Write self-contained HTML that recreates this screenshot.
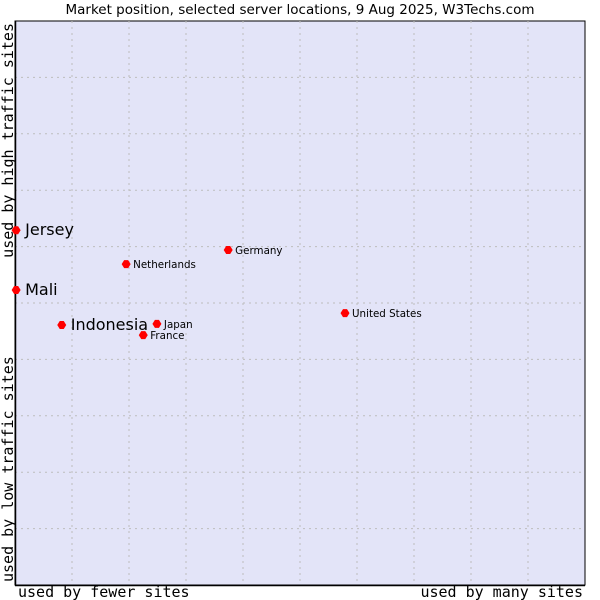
<!DOCTYPE html>
<html><head><meta charset="utf-8"><style>
body{margin:0;background:#fff}
svg{display:block}
</style></head><body>
<svg id="chart" width="600" height="600" xmlns="http://www.w3.org/2000/svg">
<text x="300" y="14" text-anchor="middle" font-family="DejaVu Sans, sans-serif" font-size="13.5" fill="#000">Market position, selected server locations, 9 Aug 2025, W3Techs.com</text>
<rect x="15" y="21" width="570" height="564" fill="#e3e4f8" stroke="#000" stroke-width="1"/>
<g id="grid"></g>
<line x1="15.5" y1="21" x2="15.5" y2="585" stroke="#000" stroke-width="1.5"/>
<line x1="15" y1="585.5" x2="585" y2="585.5" stroke="#000" stroke-width="1.5"/>
<g id="points"></g>
<text x="18" y="597" font-family="DejaVu Sans Mono, monospace" font-size="15">used by fewer sites</text>
<text x="583" y="597" text-anchor="end" font-family="DejaVu Sans Mono, monospace" font-size="15">used by many sites</text>
<text transform="translate(13,23) rotate(-90)" text-anchor="end" font-family="DejaVu Sans Mono, monospace" font-size="15">used by high traffic sites</text>
<text transform="translate(13,582) rotate(-90)" font-family="DejaVu Sans Mono, monospace" font-size="15">used by low traffic sites</text>
</svg>
<script>
const names=["Jersey","Mali","Indonesia","Netherlands","Germany","United States","Japan","France"];
const xValues=[0.2,0.2,8.2,19.5,37.4,57.9,24.9,22.5];
const yValues=[62.9,52.3,46.1,56.9,59.4,48.2,46.3,44.3];
const bigLabels=[true,true,true,false,false,false,false,false];
const gridTicks=[10,20,30,40,50,60,70,80,90];
const NS="http://www.w3.org/2000/svg";
const X0=15,X1=585,Y0=585,Y1=21;
function xs(v){return X0+(X1-X0)*v/100;}
function ys(v){return Y0-(Y0-Y1)*v/100;}
const grid=document.getElementById('grid');
gridTicks.forEach(t=>{
  const v=document.createElementNS(NS,'line');
  
  
  v.setAttribute('x1',xs(t));v.setAttribute('x2',xs(t));v.setAttribute('y1',Y1);v.setAttribute('y2',Y0);
  v.setAttribute('stroke','#bdbdbd');v.setAttribute('stroke-dasharray','2,4');
  grid.appendChild(v);
  const h=document.createElementNS(NS,'line');
  
  
  h.setAttribute('x1',X0);h.setAttribute('x2',X1);h.setAttribute('y1',ys(t));h.setAttribute('y2',ys(t));
  h.setAttribute('stroke','#bdbdbd');h.setAttribute('stroke-dasharray','2,4');
  grid.appendChild(h);
});
const pts=document.getElementById('points');
names.forEach((n,i)=>{
  const cx=xs(xValues[i]),cy=ys(yValues[i]);
  const d=document.createElementNS(NS,'path');
  
  
  d.setAttribute('d',`M${cx-4.5},${cy} L${cx-2},${cy-4} L${cx+2},${cy-4} L${cx+4.5},${cy} L${cx+2},${cy+4} L${cx-2},${cy+4} Z`);
  d.setAttribute('fill','#ff0000');
  pts.appendChild(d);
  const t=document.createElementNS(NS,'text');
  
  
  const big=bigLabels[i];
  t.setAttribute('x',cx+(big?9:7));
  t.setAttribute('y',cy+(big?5:4));
  t.setAttribute('font-family','DejaVu Sans, sans-serif');
  t.setAttribute('font-size',big?16:10.3);
  t.textContent=n;
  pts.appendChild(t);
});
</script>
</body></html>
